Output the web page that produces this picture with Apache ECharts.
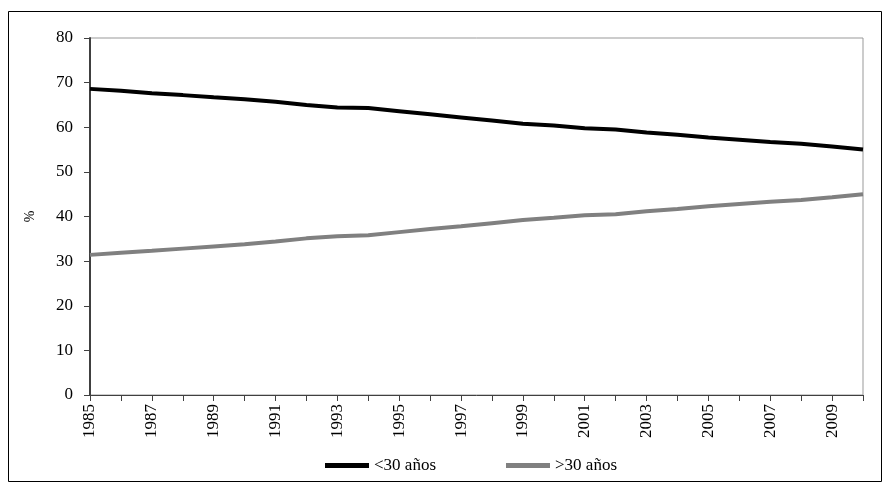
<!DOCTYPE html>
<html>
<head>
<meta charset="utf-8">
<script src="https://cdn.jsdelivr.net/npm/echarts@6/dist/echarts.min.js"></script>
<style>
html,body{margin:0;padding:0;background:#fff;}
#chart{width:884px;height:500px;}
</style>
</head>
<body>
<div id="chart"></div>
<script>
const years = ['1985','1986','1987','1988','1989','1990','1991','1992','1993','1994','1995','1996','1997','1998','1999','2000','2001','2002','2003','2004','2005','2006','2007','2008','2009','2010'];
const under30 = [68.6,68.2,67.6,67.2,66.7,66.3,65.7,65.0,64.4,64.3,63.6,62.9,62.2,61.5,60.8,60.4,59.8,59.5,58.8,58.3,57.7,57.2,56.7,56.3,55.7,55.0];
const over30 = [31.4,31.9,32.3,32.8,33.3,33.8,34.4,35.1,35.6,35.8,36.5,37.2,37.8,38.5,39.2,39.7,40.3,40.5,41.2,41.7,42.3,42.8,43.3,43.7,44.3,45.0];
const seriesNames = ['<30 años','>30 años'];
const yAxisName = '%';

const font = "'Liberation Serif', 'DejaVu Serif', serif";
const chart = echarts.init(document.getElementById('chart'), null, {renderer:'canvas'});
chart.setOption({
  animation:false,
  backgroundColor:'#fff',
  graphic:[{type:'rect', shape:{x:8.5,y:11.5,width:873,height:470}, style:{fill:'none',stroke:'#000',lineWidth:1}, silent:true}],
  grid:{left:90, top:38, right:21, bottom:105, show:true, borderColor:'#999', borderWidth:1, containLabel:false},
  legend:{
    bottom:21, left:320,
    itemWidth:44, itemHeight:5, itemGap:70, icon:'rect',
    textStyle:{fontFamily:font, fontSize:17, color:'#000'},
    data:seriesNames
  },
  xAxis:{
    type:'category', data:years, boundaryGap:false,
    axisLine:{lineStyle:{color:'#404040', width:1}},
    axisTick:{show:true, interval:0, length:6, lineStyle:{color:'#404040'}},
    axisLabel:{interval:1, rotate:90, margin:9, fontFamily:font, fontSize:17, color:'#000'},
    splitLine:{show:false}
  },
  yAxis:{
    type:'value', min:0, max:80, interval:10,
    name:yAxisName, nameLocation:'middle', nameGap:53, nameRotate:90,
    nameTextStyle:{fontFamily:font, fontSize:14, color:'#000'},
    axisLine:{show:true, lineStyle:{color:'#404040', width:2}},
    axisTick:{show:true, length:6, lineStyle:{color:'#404040'}},
    axisLabel:{margin:17, fontFamily:font, fontSize:17, color:'#000'},
    splitLine:{show:false}
  },
  series:[
    {name:seriesNames[0], type:'line', data:under30, showSymbol:false, symbol:'none', lineStyle:{color:'#000', width:4}, itemStyle:{color:'#000'}},
    {name:seriesNames[1], type:'line', data:over30, showSymbol:false, symbol:'none', lineStyle:{color:'#808080', width:4}, itemStyle:{color:'#808080'}}
  ]
});
</script>
</body>
</html>
